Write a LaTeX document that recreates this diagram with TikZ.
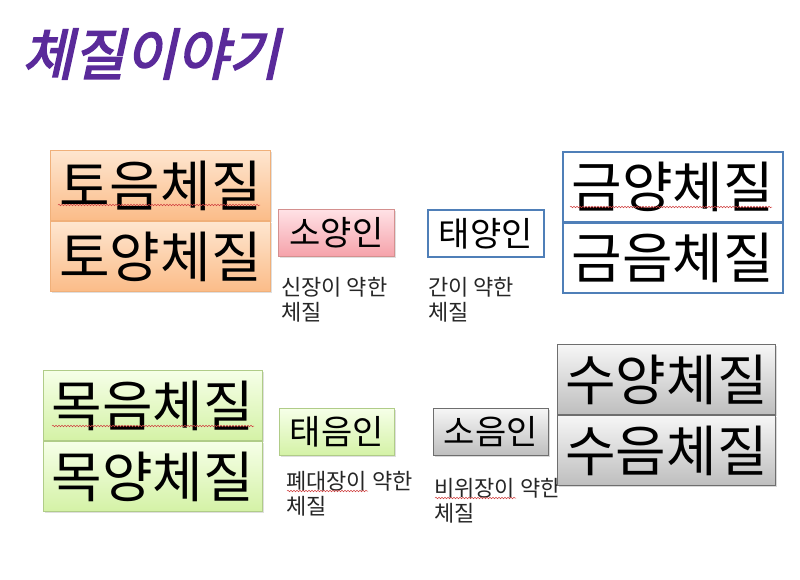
\documentclass[tikz,border=0pt]{standalone}
\usepackage{fontspec}
\setmainfont{Noto Sans CJK KR}
\newfontfamily\kr{Noto Sans CJK KR}
\newfontfamily\krtitle[FakeSlant=0.22,FakeBold=3]{Noto Sans CJK KR}
\usetikzlibrary{shadows,decorations.pathmorphing}
\definecolor{orTop}{HTML}{FEE6D0}
\definecolor{orBot}{HTML}{FBBC88}
\definecolor{orLine}{HTML}{F0B07A}
\definecolor{pkTop}{HTML}{FFE2E6}
\definecolor{pkBot}{HTML}{F5A2AA}
\definecolor{pkLine}{HTML}{D4908F}
\definecolor{grTop}{HTML}{F6FFE8}
\definecolor{grBot}{HTML}{D4F2A6}
\definecolor{grLine}{HTML}{B0CC88}
\definecolor{gyTop}{HTML}{F6F6F6}
\definecolor{gyBot}{HTML}{BEBEBE}
\definecolor{gyLine}{HTML}{6E6E6E}
\definecolor{blLine}{HTML}{4F7FB8}
\definecolor{titleC}{HTML}{5A2A9A}
\definecolor{spell}{HTML}{D04040}
\tikzset{
  box/.style={rectangle, inner sep=0pt, anchor=north west, line width=0.8pt},
  bigbox/.style={box, minimum width=220pt, minimum height=70pt, font=\kr\fontsize{55}{57}\selectfont},
  midbox/.style={box, minimum width=116pt, minimum height=47pt, font=\kr\fontsize{34}{36}\selectfont},
  orange/.style={draw=orLine, top color=orTop, bottom color=orBot, drop shadow={opacity=0.25, shadow xshift=1.5pt, shadow yshift=-1.5pt}},
  pink/.style={draw=pkLine, top color=pkTop, bottom color=pkBot, drop shadow={opacity=0.25, shadow xshift=1.5pt, shadow yshift=-1.5pt}},
  green/.style={draw=grLine, top color=grTop, bottom color=grBot, drop shadow={opacity=0.25, shadow xshift=1.5pt, shadow yshift=-1.5pt}},
  gray/.style={draw=gyLine, top color=gyTop, bottom color=gyBot, drop shadow={opacity=0.3, shadow xshift=1.5pt, shadow yshift=-1.5pt}},
  blue/.style={draw=blLine, fill=white, line width=1.6pt},
  note/.style={anchor=north west, inner sep=0pt, align=left, font=\kr\fontsize{22}{25}\selectfont, text=black!85},
  squiggle/.style={draw=spell, line width=0.5pt, decorate, decoration={snake, amplitude=0.8pt, segment length=3pt}},
}
\begin{document}
\begin{tikzpicture}[x=1pt,y=-1pt]
\useasboundingbox (0,0) rectangle (800,579);
% title
\node[anchor=west, inner sep=0pt, text=titleC, font=\krtitle\fontsize{56}{58}\selectfont] (title) at (22,54) {체질이야기};
% top left orange
\node[bigbox, orange] (to1) at (50,150) {토음체질};
\node[bigbox, orange] (to2) at (50,221) {토양체질};
% soyang
\node[midbox, pink] (soyang) at (278,209) {소양인};
\node[note] (soyangN) at (281,277) {신장이 약한\\체질};
% taeyang
\node[midbox, blue, minimum width=116pt] (taeyang) at (427,209) {태양인};
\node[note] (taeyangN) at (428,277) {간이 약한\\체질};
% top right blue
\node[bigbox, blue] (geum1) at (562,151) {금양체질};
\node[bigbox, blue] (geum2) at (562,222) {금음체질};
% bottom left green
\node[bigbox, green, minimum width=219pt] (mok1) at (43,370) {목음체질};
\node[bigbox, green, minimum width=219pt] (mok2) at (43,441) {목양체질};
% taeeum
\node[midbox, green, minimum width=115pt] (taeeum) at (279,408) {태음인};
\node[note] (taeeumN) at (286,471) {폐대장이 약한\\체질};
% soeum
\node[midbox, gray, minimum width=115pt] (soeum) at (433,408) {소음인};
\node[note] (soeumN) at (434,478) {비위장이 약한\\체질};
% bottom right gray
\node[bigbox, gray, minimum width=218pt] (su1) at (557,344) {수양체질};
\node[bigbox, gray, minimum width=218pt] (su2) at (557,415) {수음체질};
% spell-check squiggles
\coordinate (s1a) at (58,205); \coordinate (s1b) at (260,205);
\draw[squiggle] (s1a) -- (s1b);
\coordinate (s2a) at (570,207); \coordinate (s2b) at (772,207);
\draw[squiggle] (s2a) -- (s2b);
\coordinate (s3a) at (52,426); \coordinate (s3b) at (254,426);
\draw[squiggle] (s3a) -- (s3b);
\coordinate (s4a) at (287,491); \coordinate (s4b) at (368,491);
\draw[squiggle] (s4a) -- (s4b);
\coordinate (s5a) at (435,498); \coordinate (s5b) at (516,498);
\draw[squiggle] (s5a) -- (s5b);
\end{tikzpicture}
\end{document}
